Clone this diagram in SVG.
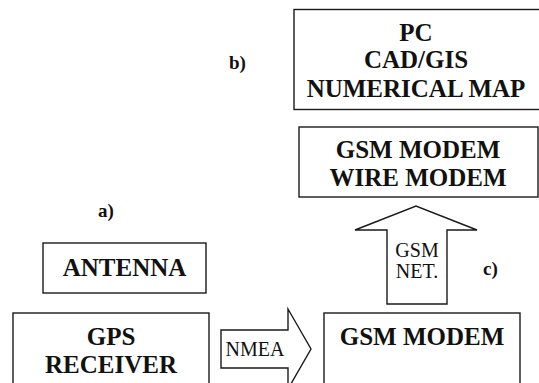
<svg xmlns="http://www.w3.org/2000/svg" width="539" height="383" viewBox="0 0 539 383">
<style>
.box{fill:#fff;stroke:#1a1a1a;stroke-width:1.4}
.arr{fill:#fff;stroke:#1a1a1a;stroke-width:1.4;stroke-linejoin:miter}
.t{font-weight:bold;font-size:25px;fill:#111;text-anchor:middle}
.r{font-size:20px;fill:#111;text-anchor:middle}
.l{font-weight:bold;font-size:19px;fill:#111}
</style>
<rect width="539" height="383" fill="#fff"/>
<g font-family="Liberation Serif, Times New Roman, serif">
<g id="connectors">
<polygon class="arr" points="221,330 288,330 288,309 311,349 288,389 288,368 221,368"/>
<text class="r" x="255" y="356">NMEA</text>
<polygon class="arr" points="387,304 387,230 355,230 416,206 477,230 447,230 447,304"/>
<text class="r" x="417" y="257">GSM</text>
<text class="r" x="417" y="278">NET.</text>
</g>
<g id="pc">
<rect class="box" x="294" y="9.5" width="250" height="100"/>
<text class="t" x="416" y="41">PC</text>
<text class="t" x="416" y="68">CAD/GIS</text>
<text class="t" x="416" y="97">NUMERICAL MAP</text>
</g>
<g id="modem-top">
<rect class="box" x="299" y="127" width="239" height="70"/>
<text class="t" x="418" y="158">GSM MODEM</text>
<text class="t" x="418" y="186">WIRE MODEM</text>
</g>
<g id="antenna">
<rect class="box" x="43" y="243" width="163" height="50"/>
<text class="t" x="124.5" y="276">ANTENNA</text>
</g>
<g id="gps">
<rect class="box" x="13" y="313" width="196" height="80"/>
<text class="t" x="111" y="345">GPS</text>
<text class="t" x="111" y="373">RECEIVER</text>
</g>
<g id="gsm-modem">
<rect class="box" x="324" y="313" width="196" height="80"/>
<text class="t" x="422" y="345">GSM MODEM</text>
</g>
<g id="labels">
<text class="l" x="229" y="69">b)</text>
<text class="l" x="98" y="217">a)</text>
<text class="l" x="483" y="275">c)</text>
</g>
</g>
</svg>
